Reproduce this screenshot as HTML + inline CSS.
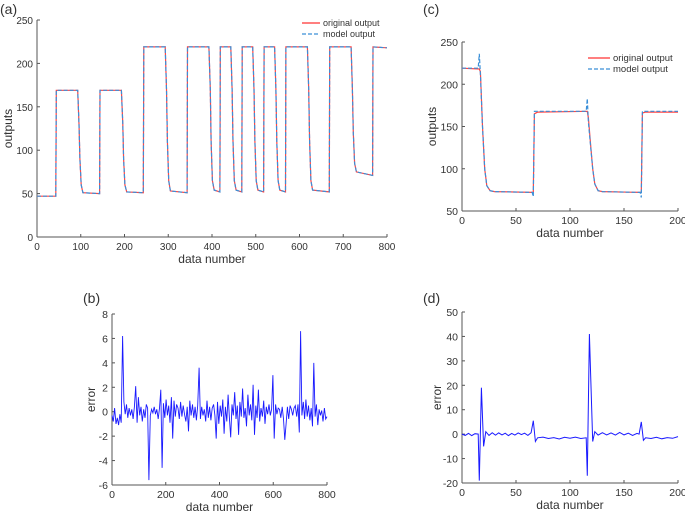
<!DOCTYPE html>
<html><head><meta charset="utf-8"><style>
body{margin:0;background:#fff;}
svg text{font-family:"Liberation Sans",sans-serif;fill:#333;}
</style></head><body>
<svg id="s" width="685" height="513" viewBox="0 0 685 513" xmlns="http://www.w3.org/2000/svg">
<text x="0" y="14" font-size="14">(a)</text>
<text x="423" y="14" font-size="14">(c)</text>
<text x="83" y="303" font-size="14">(b)</text>
<text x="423" y="303" font-size="14">(d)</text>
</svg>
<script>
// Panel (a) data
const aOrigX=[0,43,44,93,96,98,101,105,143,144,193,196,198,201,205,243,244,293,296,298,301,305,343,344,393,396,398,401,405,418,419,443,446,448,451,455,468,469,493,496,498,501,505,518,519,543,546,548,551,555,568,569,618,621,623,626,630,668,669,718,721,723,726,730,767,768,800];
const aOrigY=[47,47,169,169,130,90,60,51,50,169,169,130,90,60,52,51,219,219,170,110,65,53,51,219,219,170,110,65,54,52,219,219,170,110,65,54,52,219,219,170,110,65,54,52,219,219,170,110,65,54,52,219,219,170,110,65,54,52,219,219,170,120,85,75,71,219,218];
const aTicksX=[0,100,200,300,400,500,600,700,800];
const aTicksY=[0,50,100,150,200,250];
// Panel (c) data
const cOrigX=[0,16,17,19,21,23,26,30,66,67,70,116,117,119,121,123,126,130,166,167,170,200];
const cOrigY=[219,218,215,150,100,80,74,73,72,165,167,168,160,130,100,82,74,73,72,166,167,167];
const cModX=[0,15,16,17,19,21,23,26,30,65,66,67,70,115,116,117,119,121,123,126,130,165,166,167,170,200];
const cModY=[219,219,236,212,150,100,80,74,73,72,67,168,168,168,183,155,128,100,82,74,73,72,66,168,168,168];
const cTicksX=[0,50,100,150,200];
const cTicksY=[50,100,150,200,250];
// Panel (b) error data (evenly spaced over 0..800)
const bErr=[-0.3,-0.8,0.3,-1,-0.5,-1.1,-0.2,-0.9,6.2,0.8,-0.2,0.6,-0.5,0.3,-0.3,0.2,-0.6,0.4,2.1,-0.9,1.2,-0.3,0.4,-0.8,0.2,-0.5,0.6,0.3,-5.6,-0.3,0.2,-0.1,0.4,-0.2,0.2,-0.6,0.3,1.8,-4.6,0.7,-0.5,1,-0.3,0.5,-0.9,1.2,-2.2,0.9,-0.4,0.6,0.3,-0.6,0.8,-0.4,0.5,-0.2,-0.8,0.4,-1.6,0.9,-0.3,0.6,-0.5,0.4,-0.7,0.5,3.6,-0.6,0.4,-0.3,0.2,-0.8,0.9,-0.5,0.4,-0.7,0.3,0.6,-0.3,-2.2,0.8,-1,0.5,-0.4,1,-1.8,0.4,-0.8,1.4,-0.5,-2.1,0.6,-0.3,1.6,-0.6,0.5,-1.9,0.8,-0.4,1.9,-0.5,0.3,-1.2,1.4,-0.3,0.6,-0.7,2.2,-1.9,0.5,-0.5,1.8,-0.8,0.3,-0.4,0.9,-1,0.4,-0.2,0.6,-0.3,0.2,3,-2.2,0.6,-0.2,0.3,0.2,-0.5,0.4,-0.6,-2.3,-1,0.4,-0.6,0.5,0.2,-0.3,0.3,0.5,-0.4,0.6,-1.7,6.6,-0.3,0.8,-0.6,1,-0.4,0.5,-0.7,0.3,-1.2,4,-0.4,0.6,-1.1,0.2,-0.3,0.1,-0.8,0.3,-0.6,-0.4];
const bTicksX=[0,200,400,600,800];
const bTicksY=[-6,-4,-2,0,2,4,6,8];
// Panel (d) error data
const dX=[0,3,6,9,12,15,16,18,20,22,25,28,31,34,37,40,43,46,49,52,55,58,61,64,66,68,70,75,80,85,90,95,100,105,110,115,116,118,121,123,126,130,134,138,142,146,150,154,158,162,164,166,168,170,175,180,185,190,195,200];
const dY=[0,-0.5,0.3,-0.6,0.2,0,-19,19,-5,1,-0.5,0.6,-0.4,0.5,-0.3,0.4,-0.6,0.3,-0.4,0.5,-0.2,0.4,-0.5,0.6,5.5,-3,-1.5,-1.2,-1.8,-1.4,-2,-1.3,-1.7,-1.2,-1.8,-1.5,-17,41,-3,1,-0.4,0.6,-0.3,0.5,-0.4,0.7,-0.3,0.4,-0.5,0.3,0,5,-2.5,-1.5,-1.8,-1.3,-1.9,-1.4,-1.7,-1];
const dTicksX=[0,50,100,150,200];
const dTicksY=[-20,-10,0,10,20,30,40,50];

const NS='http://www.w3.org/2000/svg';
const svg=document.getElementById('s');
function mk(tag,attrs,parent){const e=document.createElementNS(NS,tag);for(const k in attrs)e.setAttribute(k,attrs[k]);(parent||svg).appendChild(e);return e;}
function scale(d0,d1,r0,r1){return v=>r0+(v-d0)/(d1-d0)*(r1-r0);}

function axes(name,X,Y,tx,ty,xl,yl,ylx,fs){
  const g=mk('g',{});
  
  
  const x0=X.r0,x1=X.r1,y0=Y.r0,y1=Y.r1;
  mk('line',{x1:x0,y1:y0,x2:x1,y2:y0,stroke:'#555','stroke-width':1},g);
  mk('line',{x1:x0,y1:y0,x2:x0,y2:y1,stroke:'#555','stroke-width':1},g);
  tx.forEach(v=>{const x=X.f(v);
    mk('line',{x1:x,y1:y0,x2:x,y2:y0-3,stroke:'#555'},g);
    const t=mk('text',{x:x,y:y0+13,'font-size':fs,'text-anchor':'middle'},g);t.textContent=v;
    
    });
  ty.forEach(v=>{const y=Y.f(v);
    mk('line',{x1:x0,y1:y,x2:x0+3,y2:y,stroke:'#555'},g);
    const t=mk('text',{x:x0-4,y:y+4,'font-size':fs,'text-anchor':'end'},g);t.textContent=v;
    
    });
  const xt=mk('text',{x:(x0+x1)/2,y:y0+26,'font-size':12,'text-anchor':'middle'},g);xt.textContent=xl;
  
  
  const yc=(y0+y1)/2;
  const yt=mk('text',{x:ylx,y:yc,'font-size':12,'text-anchor':'middle',transform:`rotate(-90 ${ylx} ${yc})`},g);yt.textContent=yl;
  
  
}
function line(name,xs,ys,X,Y,color,w,dash){
  const d=xs.map((x,i)=>(i?'L':'M')+X.f(x).toFixed(1)+' '+Y.f(ys[i]).toFixed(1)).join('');
  const p=mk('path',{d:d,fill:'none',stroke:color,'stroke-width':w,'stroke-dasharray':dash||'none'});
  
  
}
function legend(name,x,y,fs,len){
  const g=mk('g',{});
  
  
  mk('line',{x1:x,y1:y,x2:x+len,y2:y,stroke:'#f33','stroke-width':1.2},g);
  let t=mk('text',{x:x+len+3,y:y+3,'font-size':fs},g);t.textContent='original output';
  
  
  mk('line',{x1:x,y1:y+11,x2:x+len,y2:y+11,stroke:'#3a8fd8','stroke-width':1.2,'stroke-dasharray':'4 2'},g);
  t=mk('text',{x:x+len+3,y:y+14,'font-size':fs},g);t.textContent='model output';
  
  
}
function ax(d0,d1,r0,r1){return {r0:r0,r1:r1,f:scale(d0,d1,r0,r1)};}

// (a)
let X=ax(0,800,37,387),Y=ax(0,250,237,20);
axes('panel-a',X,Y,aTicksX,aTicksY,'data number','outputs',12,10);
line('panel-a-original',aOrigX,aOrigY,X,Y,'#f44',1.2);
line('panel-a-model',aOrigX,aOrigY,X,Y,'#3a8fd8',1.2,'4 2');
legend('panel-a-legend',302,23,9,18);
// (c)
X=ax(0,200,462,678);Y=ax(50,250,211,42);
axes('panel-c',X,Y,cTicksX,cTicksY,'data number','outputs',436,10.5);
line('panel-c-original',cOrigX,cOrigY,X,Y,'#f44',1.2);
line('panel-c-model',cModX,cModY,X,Y,'#3a8fd8',1.2,'4 2');
legend('panel-c-legend',588,58,9.5,22);
// (b)
X=ax(0,800,112,327);Y=ax(-6,8,485,314);
axes('panel-b',X,Y,bTicksX,bTicksY,'data number','error',95,10.5);
const bStep=800/(bErr.length-1);
line('panel-b-error',bErr.map((v,i)=>i*bStep),bErr,X,Y,'#1a1aff',0.9);
// (d)
X=ax(0,200,462,678);Y=ax(-20,50,483,312);
axes('panel-d',X,Y,dTicksX,dTicksY,'data number','error',441,10.5);
line('panel-d-error',dX,dY,X,Y,'#1a1aff',1);
</script>
</body></html>
